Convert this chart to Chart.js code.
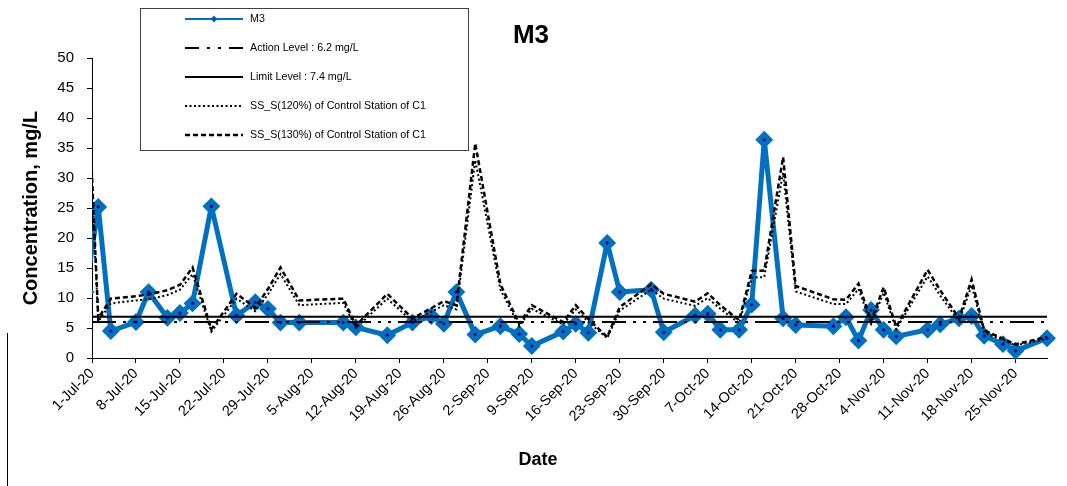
<!DOCTYPE html>
<html>
<head>
<meta charset="utf-8">
<script src="https://cdn.jsdelivr.net/npm/chart.js@4.4.1/dist/chart.umd.min.js"></script>
<style>
  body { margin: 0; background: #fff; }
  #wrap { width: 1067px; height: 486px; }
</style>
</head>
<body>
<div id="wrap"><canvas id="m3chart" width="1067" height="486"></canvas></div>
<script>
// axis range (x axis is days counted from axisStart)
const axisStart = '2020-07-01'
const axisEnd = '2020-11-30'
const monthNames = ['Jan', 'Feb', 'Mar', 'Apr', 'May', 'Jun', 'Jul', 'Aug', 'Sep', 'Oct', 'Nov', 'Dec']

// sampling dates - the first one lies just before the axis and gets clipped
const sampleDates = [
  '2020-06-30', '2020-07-02', '2020-07-04', '2020-07-08', '2020-07-10', '2020-07-13', '2020-07-15',
  '2020-07-17', '2020-07-20', '2020-07-24', '2020-07-27', '2020-07-29', '2020-07-31', '2020-08-03',
  '2020-08-10', '2020-08-12', '2020-08-17', '2020-08-21', '2020-08-24', '2020-08-26', '2020-08-28',
  '2020-08-31', '2020-09-04', '2020-09-07', '2020-09-09', '2020-09-14', '2020-09-16', '2020-09-18',
  '2020-09-21', '2020-09-23', '2020-09-28', '2020-09-30', '2020-10-05', '2020-10-07', '2020-10-09',
  '2020-10-12', '2020-10-14', '2020-10-16', '2020-10-19', '2020-10-21', '2020-10-27', '2020-10-29',
  '2020-10-31', '2020-11-02', '2020-11-04', '2020-11-06', '2020-11-11', '2020-11-13', '2020-11-16',
  '2020-11-18', '2020-11-20', '2020-11-23', '2020-11-25', '2020-11-30'
]

const m3Values = [
  11, 25.2, 4.5, 6.0, 11.0, 6.7, 7.5,
  9.1, 25.3, 7.1, 9.3, 8.2, 5.9, 5.9,
  5.9, 5.1, 3.8, 5.9, 7.0, 5.7, 11.0,
  3.9, 5.3, 4.0, 2.0, 4.4, 5.7, 4.2,
  19.2, 11.0, 11.4, 4.3, 7.1, 7.4, 4.7,
  4.7, 8.9, 36.4, 6.6, 5.5, 5.3, 6.8,
  2.9, 8.0, 4.7, 3.6, 4.7, 5.6, 6.6,
  7.0, 3.7, 2.3, 1.2, 3.3
]

const ss130Values = [
  54, 6.6, 9.9, 10.3, 10.6, 11.3, 12.2,
  15.1, 4.8, 10.7, 8.4, 11.5, 15.1, 9.6,
  9.9, 5.4, 10.7, 6.6, 8.3, 9.5, 8.8,
  35.8, 12.3, 5.7, 8.8, 6.0, 8.8, 6.5,
  3.5, 8.5, 12.3, 10.7, 9.4, 10.8, 8.8,
  6.3, 14.5, 14.6, 33.5, 12.0, 9.8, 9.7,
  12.4, 6.2, 11.8, 5.2, 14.7, 11.3, 6.6,
  13.1, 4.6, 3.2, 2.3, 3.5
]

const ss120Values = [
  50, 6.1, 9.1, 9.6, 9.8, 10.5, 11.4,
  14.0, 4.4, 9.9, 7.8, 10.6, 14.0, 8.8,
  9.2, 5.0, 9.9, 6.1, 7.7, 8.8, 8.1,
  33.0, 11.4, 5.3, 8.2, 5.6, 8.1, 6.0,
  3.3, 7.9, 11.4, 9.9, 8.7, 10.0, 8.2,
  5.8, 13.4, 13.5, 30.9, 11.1, 9.0, 9.0,
  11.5, 5.7, 10.9, 4.8, 13.6, 10.4, 6.1,
  12.1, 4.2, 3.0, 2.1, 3.2
]

const actionLevel = 6.0
const limitLevel = 6.9

const legendLabels = [
  'M3',
  'Action Level : 6.2 mg/L',
  'Limit Level : 7.4 mg/L',
  'SS_S(120%) of Control Station of C1',
  'SS_S(130%) of Control Station of C1'
]

const FONT = '"Liberation Sans", Arial, sans-serif'
const DAY = 864e5

function toDay(s) {
  return (Date.parse(s + 'T00:00:00Z') - Date.parse(axisStart + 'T00:00:00Z')) / DAY
}
function dayLabel(v) {
  const d = new Date(Date.parse(axisStart + 'T00:00:00Z') + v * DAY)
  return d.getUTCDate() + '-' + monthNames[d.getUTCMonth()] + '-' + String(d.getUTCFullYear()).slice(2)
}

const xDays = sampleDates.map(toDay)
const xMax = toDay(axisEnd)
const series = vals => vals.map((v, i) => ({ x: xDays[i], y: v }))
const flat = v => [{ x: 0, y: v }, { x: xMax, y: v }]

const clipBox = { left: 0, top: 0, right: 12, bottom: 12 }

// small navy dot in the middle of each M3 diamond
const markerDots = {
  id: 'markerDots',
  afterDatasetsDraw(chart) {
    const ctx = chart.ctx
    const area = chart.chartArea
    ctx.save()
    ctx.fillStyle = '#000080'
    chart.getDatasetMeta(0).data.forEach(pt => {
      if (pt.x < area.left) return
      ctx.beginPath()
      ctx.arc(pt.x, pt.y, 1.6, 0, Math.PI * 2)
      ctx.fill()
    })
    ctx.restore()
  }
}

// boxed legend top left, drawn from the dataset styles, plus the "Date" caption
const legendBox = {
  id: 'legendBox',
  afterDraw(chart) {
    const ctx = chart.ctx
    ctx.save()
    ctx.fillStyle = '#fff'
    ctx.fillRect(140.5, 8.5, 328, 142)
    ctx.strokeStyle = '#404040'
    ctx.lineWidth = 1
    ctx.strokeRect(140.5, 8.5, 328, 142)
    ctx.font = '10.7px ' + FONT
    ctx.textBaseline = 'middle'
    chart.data.datasets.forEach((ds, i) => {
      const y = 19 + i * 29
      ctx.strokeStyle = ds.borderColor
      ctx.lineWidth = ds.legendWidth || ds.borderWidth
      ctx.setLineDash(ds.legendDash || ds.borderDash || [])
      ctx.beginPath()
      ctx.moveTo(185, y)
      ctx.lineTo(243, y)
      ctx.stroke()
      ctx.setLineDash([])
      if (ds.pointRadius > 0) {
        ctx.fillStyle = ds.backgroundColor
        ctx.beginPath()
        ctx.moveTo(214, y - 3.5); ctx.lineTo(217.5, y); ctx.lineTo(214, y + 3.5); ctx.lineTo(210.5, y)
        ctx.closePath()
        ctx.fill()
        ctx.fillStyle = '#000080'
        ctx.fillRect(213.2, y - 0.8, 1.6, 1.6)
      }
      ctx.fillStyle = '#000'
      ctx.fillText(legendLabels[i], 250, y + 0.5)
    })
    // x axis caption
    ctx.font = 'bold 18px ' + FONT
    ctx.textAlign = 'center'
    ctx.fillText('Date', 538, 460)
    // outer frame edge on the left
    ctx.strokeStyle = '#000'
    ctx.lineWidth = 1
    ctx.beginPath()
    ctx.moveTo(7.5, 333)
    ctx.lineTo(7.5, 486)
    ctx.stroke()
    ctx.restore()
  }
}

new Chart(document.getElementById('m3chart'), {
  type: 'line',
  data: {
    datasets: [
      {
        label: legendLabels[0],
        data: series(m3Values),
        borderColor: '#0070C0',
        backgroundColor: '#0070C0',
        borderWidth: 5,
        borderJoinStyle: 'round',
        borderCapStyle: 'round',
        legendWidth: 2,
        pointStyle: 'rectRot',
        pointRadius: 7.5,
        pointBorderWidth: 2,
        pointBorderColor: '#0070C0',
        pointBackgroundColor: '#0070C0',
        clip: clipBox,
        order: 5
      },
      {
        label: legendLabels[1],
        data: flat(actionLevel),
        borderColor: '#000',
        borderWidth: 2,
        borderDash: [24, 7, 3, 7, 3, 7],
        legendDash: [14, 8, 3, 8, 3, 8],
        pointRadius: 0,
        clip: clipBox,
        order: 1
      },
      {
        label: legendLabels[2],
        data: flat(limitLevel),
        borderColor: '#000',
        borderWidth: 2,
        pointRadius: 0,
        clip: clipBox,
        order: 1
      },
      {
        label: legendLabels[3],
        data: series(ss120Values),
        borderColor: '#000',
        borderWidth: 2,
        borderDash: [2, 2.5],
        pointRadius: 0,
        clip: clipBox,
        order: 2
      },
      {
        label: legendLabels[4],
        data: series(ss130Values),
        borderColor: '#000',
        borderWidth: 2.5,
        borderDash: [5, 3],
        pointRadius: 0,
        clip: clipBox,
        order: 2
      }
    ]
  },
  options: {
    responsive: false,
    animation: false,
    events: [],
    layout: { padding: { left: 15, right: 20, top: 0, bottom: 0 } },
    elements: { line: { tension: 0, fill: false } },
    plugins: {
      legend: { display: false },
      tooltip: { enabled: false },
      title: {
        display: true,
        text: 'M3',
        color: '#000',
        font: { family: FONT, size: 26, weight: 'bold' },
        padding: { top: 20, bottom: 7 }
      }
    },
    scales: {
      x: {
        type: 'linear',
        min: 0,
        max: xMax,
        afterFit: s => { s.height = 128 },
        grid: { drawOnChartArea: false, drawTicks: true, tickLength: 5, color: '#000' },
        border: { color: '#000', width: 1 },
        ticks: {
          stepSize: 7,
          includeBounds: false,
          autoSkip: false,
          maxRotation: 45,
          minRotation: 45,
          color: '#000',
          padding: 2,
          font: { family: FONT, size: 14.5 },
          callback: v => dayLabel(v)
        },
        title: { display: false }
      },
      y: {
        min: 0,
        max: 50,
        afterFit: s => { s.width = 77 },
        grid: { drawOnChartArea: false, drawTicks: true, tickLength: 5, color: '#000' },
        border: { color: '#000', width: 1 },
        ticks: {
          stepSize: 5,
          color: '#000',
          padding: 13,
          font: { family: FONT, size: 15 }
        },
        title: {
          display: true,
          text: 'Concentration, mg/L',
          color: '#000',
          font: { family: FONT, size: 20, weight: 'bold' },
          padding: { top: 4, bottom: 0 }
        }
      }
    }
  },
  plugins: [markerDots, legendBox]
})
</script>
</body>
</html>
